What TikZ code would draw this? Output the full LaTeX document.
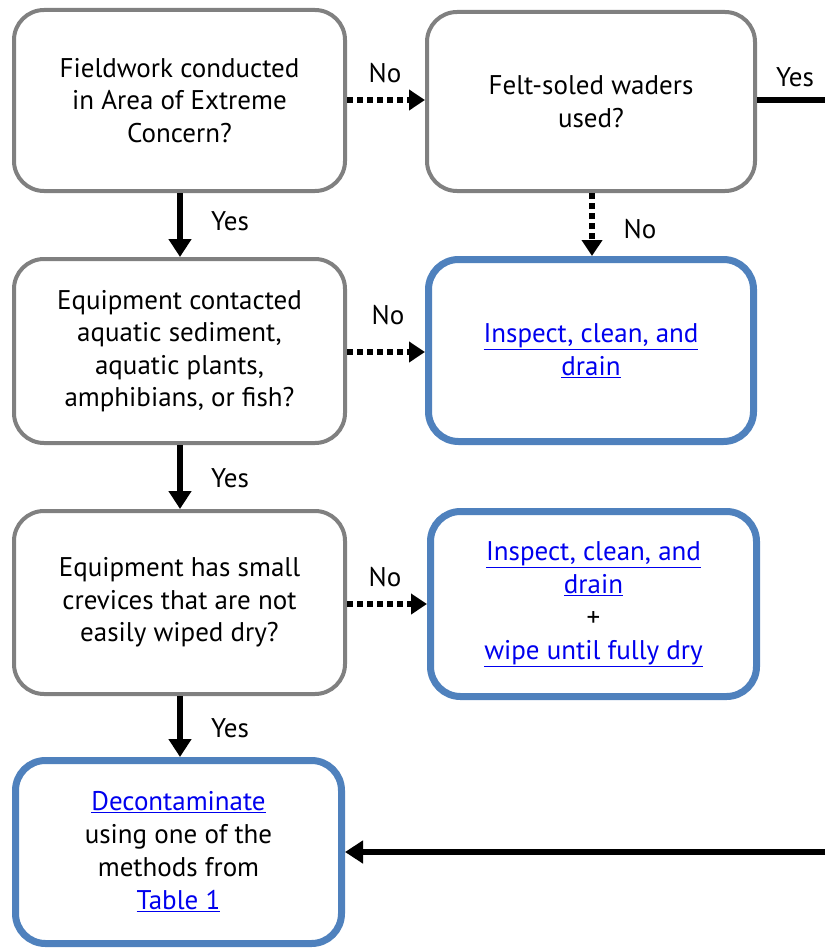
\documentclass[tikz,border=0pt]{standalone}
\usepackage{fontspec}
\setmainfont{PT Sans}
\usetikzlibrary{arrows.meta}
\definecolor{boxgray}{RGB}{128,128,128}
\definecolor{boxblue}{RGB}{79,129,189}
\definecolor{linkblue}{RGB}{0,0,238}
\newcommand{\lnk}[1]{\textcolor{linkblue}{\underline{#1}}}
\tikzset{
  qbox/.style={draw=boxgray, line width=4pt, rounded corners=30pt, fill=white,
    align=center, inner sep=0pt, font=\fontsize{27}{32.5}\selectfont},
  abox/.style={draw=boxblue, line width=7pt, rounded corners=30pt, fill=white,
    align=center, inner sep=0pt, font=\fontsize{27}{33}\selectfont},
  yesarrow/.style={line width=6pt, -{Triangle[length=18pt,width=22pt]}},
  noarrow/.style={line width=6pt, dash pattern=on 6pt off 4pt, -{Triangle[length=16pt,width=20pt]}},
  lbl/.style={font=\fontsize{27}{30}\selectfont, inner sep=0pt},
}
\begin{document}
\begin{tikzpicture}[x=1pt,y=-1pt]
\useasboundingbox (0,0) rectangle (825,950);
\node[qbox, minimum width=331pt, minimum height=181pt] (A) at (179.5,100.5)
  {Fieldwork conducted\\in Area of Extreme\\Concern?};
\node[qbox, minimum width=328pt, minimum height=179pt] (B) at (591,101.5)
  {Felt-soled waders\\used?};
\node[qbox, minimum width=331pt, minimum height=184pt] (C) at (179.5,351)
  {Equipment contacted\\aquatic sediment,\\aquatic plants,\\amphibians, or fish?};
\node[abox, minimum width=325pt, minimum height=182pt] (D) at (591,350.5)
  {\lnk{Inspect, clean, and}\\\lnk{drain}};
\node[qbox, minimum width=331pt, minimum height=183pt] (E) at (179.5,602.5)
  {Equipment has small\\crevices that are not\\easily wiped dry?};
\node[abox, minimum width=326pt, minimum height=185pt] (F) at (593.5,604)
  {\lnk{Inspect, clean, and}\\\lnk{drain}\\+\\\lnk{wipe until fully dry}};
\node[abox, minimum width=326pt, minimum height=183pt] (G) at (178.5,852)
  {\lnk{Decontaminate}\\using one of the\\methods from\\\lnk{Table 1}};
\coordinate (rB) at (825,100);
\coordinate (rG) at (825,852);

\draw[noarrow] (A.east |- 0,100) -- (B.west |- 0,100);
\node[lbl] at (385,73) {No};
\draw[line width=6pt] (B.east |- 0,100) -- (rB);
\node[lbl] at (795,77) {Yes};
\draw[yesarrow] (A.south -| 180,0) -- (C.north -| 180,0);
\node[lbl] at (230,221) {Yes};
\draw[noarrow] (B.south -| 592,0) -- (D.north -| 592,0);
\node[lbl] at (640,229) {No};
\draw[noarrow] (C.east |- 0,352) -- (D.west |- 0,352);
\node[lbl] at (388,315) {No};
\draw[yesarrow] (C.south -| 180,0) -- (E.north -| 180,0);
\node[lbl] at (230,478) {Yes};
\draw[noarrow] (E.east |- 0,604) -- (F.west |- 0,604);
\node[lbl] at (385,577) {No};
\draw[yesarrow] (E.south -| 180,0) -- (G.north -| 180,0);
\node[lbl] at (230,728) {Yes};
\draw[yesarrow] (rG) -- (G.east |- 0,852);
\end{tikzpicture}
\end{document}
